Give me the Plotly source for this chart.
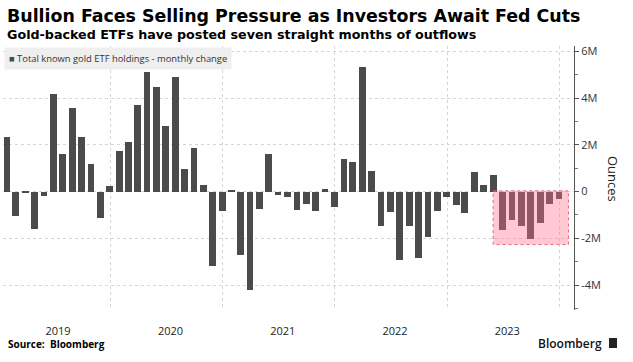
import pandas as pd
import plotly.graph_objects as go

# Monthly change in total known gold ETF holdings (millions of ounces)
months = pd.date_range("2019-01-31", periods=60, freq="ME")
change_moz = [
    2.35, -1.03, -0.07, -1.62, -0.17, 4.18, 1.59, 3.57, 2.32, 1.16, -1.13, 0.24,
    1.72, 2.12, 3.70, 5.12, 4.47, 2.80, 4.92, 0.95, 1.86, 0.27, -3.18, -0.85,
    0.06, -2.73, -4.20, -0.75, 1.59, -0.16, -0.22, -0.80, -0.55, -0.85, 0.13, -0.65,
    1.39, 1.25, 5.32, 0.90, -1.49, -0.89, -2.95, -1.48, -2.85, -1.96, -0.85, -0.22,
    -0.59, -0.90, 0.85, 0.30, 0.70, -1.63, -1.22, -1.49, -2.02, -1.36, -0.55, -0.33,
]
year_labels = ["2019", "2020", "2021", "2022", "2023"]
year_label_pos = ["2019-07-16", "2020-07-16", "2021-07-16", "2022-07-16", "2023-07-16"]
y_tickvals = [6, 4, 2, 0, -2, -4]
y_ticktext = ["6M", "4M", "2M", "0", "-2M", "-4M"]
outflow_streak = 7  # last seven months highlighted

W, H = 633, 362
L, R, T, B = 3, 59, 46, 52
PW, PH = W - L - R, H - T - B


def px(x):
    return (x - L) / PW


def py(y):
    return (H - B - y) / PH


FONT = "Open Sans"
HEAD = "DejaVu Sans"

fig = go.Figure()
fig.add_trace(go.Bar(
    x=months, y=change_moz,
    marker=dict(color="#4b4b4b", line=dict(width=0)),
    width=22 * 86400000,
    showlegend=False,
    name="Total known gold ETF holdings - monthly change",
))

# highlight box for the outflow streak
hl_start = months[-outflow_streak - 1]
hl_end = months[-1] + pd.DateOffset(months=1)
hl_min = min(change_moz[-outflow_streak:])
fig.add_shape(
    type="rect", xref="x", yref="y",
    x0=hl_start, x1=hl_end, y0=0.03, y1=hl_min - 0.25,
    fillcolor="rgba(255,110,140,0.38)",
    line=dict(color="rgba(235,90,120,0.9)", width=1, dash="dot"),
    layer="above",
)

annotations = [
    dict(text="<b>Bullion Faces Selling Pressure as Investors Await Fed Cuts</b>",
         x=px(5), y=py(16), xanchor="left", yanchor="middle",
         font=dict(family=HEAD, size=17.4, color="#000")),
    dict(text="<b>Gold-backed ETFs have posted seven straight months of outflows</b>",
         x=px(5), y=py(35), xanchor="left", yanchor="middle",
         font=dict(family=HEAD, size=12.7, color="#000")),
    dict(text="<span style='color:#4b4b4b'>■</span> Total known gold ETF holdings - monthly change",
         x=px(4), y=py(47), xanchor="left", yanchor="top", align="left",
         bgcolor="#efefef", borderpad=4,
         font=dict(family=FONT, size=9.4, color="#333")),
    dict(text="Ounces", textangle=90,
         x=px(613), y=py(179), xanchor="center", yanchor="middle",
         font=dict(family=FONT, size=13, color="#222")),
    dict(text="<b>Source:  Bloomberg</b>",
         x=px(6), y=py(344), xanchor="left", yanchor="middle",
         font=dict(family=FONT, size=10, color="#000")),
    dict(text="Bloomberg",
         x=px(604), y=py(343), xanchor="right", yanchor="middle",
         font=dict(family=FONT, size=12, color="#111", weight=600)),
]
for a in annotations:
    a.setdefault("xref", "paper")
    a.setdefault("yref", "paper")
    a.setdefault("showarrow", False)

fig.add_shape(type="rect", xref="paper", yref="paper",
              x0=px(609), x1=px(617), y0=py(348), y1=py(338),
              fillcolor="#222", line=dict(width=0))

fig.update_layout(
    width=W, height=H,
    margin=dict(l=L, r=R, t=T, b=B),
    plot_bgcolor="white", paper_bgcolor="white",
    bargap=0,
    annotations=annotations,
    font=dict(family=FONT, color="#333"),
    xaxis=dict(
        type="date",
        range=["2019-01-18", "2024-02-18"],
        tickvals=year_label_pos, ticktext=year_labels,
        ticks="", showgrid=False, showline=False, zeroline=False,
        tickfont=dict(family=FONT, size=11, color="#222"),
        ticklabelstandoff=13,
        minor=dict(dtick="M12", tick0="2019-01-01", showgrid=True,
                   gridcolor="#d6d6d6", griddash="dot", gridwidth=1),
    ),
    yaxis=dict(
        side="right",
        range=[-5.07, 6.23],
        tickvals=y_tickvals, ticktext=y_ticktext,
        ticks="outside", ticklen=4, tickcolor="#555",
        showline=True, linecolor="#555", linewidth=1,
        showgrid=True, gridcolor="#d6d6d6", griddash="dot", gridwidth=1,
        zeroline=False,
        tickfont=dict(family=FONT, size=11, color="#333"),
        minor=dict(dtick=1, tick0=1, ticks="outside", ticklen=3, tickcolor="#777",
                   showgrid=False),
    ),
)

fig.write_html(
    "out.html",
    config={"displayModeBar": False},
    post_script="document.body.style.margin='0';document.body.style.overflow='hidden';",
)
